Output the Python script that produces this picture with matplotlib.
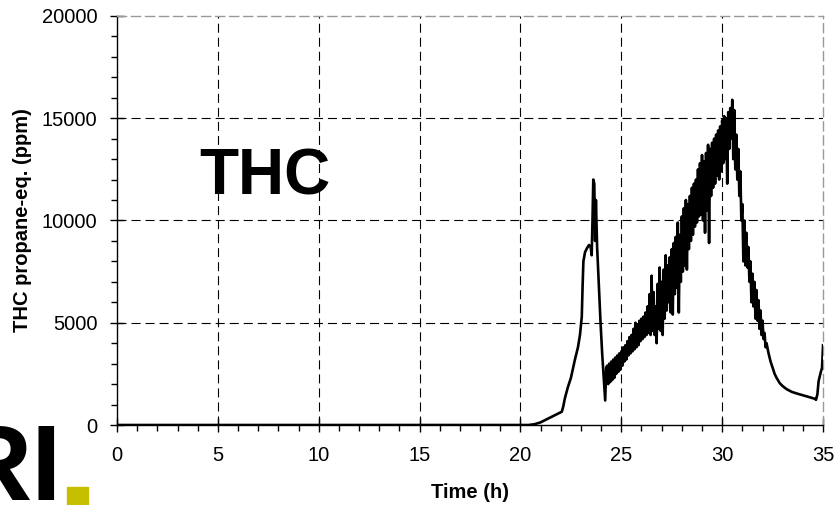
import numpy as np
import matplotlib
matplotlib.use("Agg")
import matplotlib.pyplot as plt
from matplotlib.patches import Rectangle
from matplotlib.ticker import MultipleLocator

plt.rcParams['font.family'] = ['Liberation Sans', 'DejaVu Sans']
plt.rcParams['lines.scale_dashes'] = False

# THC trace: time (h) and ppm propane-eq.
# quiet start and first peak
t_start = [0.0, 20.40, 20.70, 21.00, 21.30, 21.60, 21.80, 21.95, 22.05, 22.12,
           22.20, 22.35, 22.50, 22.70, 22.85, 22.95, 23.04, 23.08, 23.12, 23.20,
           23.30, 23.40, 23.48, 23.53, 23.57, 23.61, 23.66, 23.70, 23.74, 23.80,
           23.90, 23.97, 24.05, 24.12, 24.20, 24.25]
v_start = [0, 0, 40, 130, 280, 430, 530, 600, 650, 900,
           1300, 1850, 2300, 3200, 3800, 4400, 5300, 6800, 8000, 8450,
           8650, 8800, 8700, 8300, 10000, 12000, 11800, 9000, 11000, 8700,
           6500, 5000, 3500, 2400, 1200, 2800]

# noisy rise, main peak and decline
t_main = [24.30, 24.35, 24.40, 24.45, 24.50, 24.55, 24.60, 24.65, 24.70, 24.75,
          24.80, 24.85, 24.90, 24.95, 25.00, 25.05, 25.10, 25.15, 25.20, 25.25,
          25.30, 25.35, 25.40, 25.45, 25.50, 25.55, 25.60, 25.65, 25.70, 25.75,
          25.80, 25.85, 25.90, 25.95, 26.00, 26.05, 26.10, 26.15, 26.20, 26.25,
          26.30, 26.35, 26.40, 26.45, 26.50, 26.55, 26.60, 26.65, 26.70, 26.75,
          26.80, 26.85, 26.90, 26.95, 27.00, 27.05, 27.10, 27.15, 27.20, 27.25,
          27.30, 27.35, 27.40, 27.45, 27.50, 27.55, 27.60, 27.65, 27.70, 27.75,
          27.80, 27.85, 27.90, 27.95, 28.00, 28.05, 28.10, 28.15, 28.20, 28.25,
          28.30, 28.35, 28.40, 28.45, 28.50, 28.55, 28.60, 28.65, 28.70, 28.75,
          28.80, 28.85, 28.90, 28.95, 29.00, 29.05, 29.10, 29.15, 29.20, 29.25,
          29.30, 29.35, 29.40, 29.45, 29.50, 29.55, 29.60, 29.65, 29.70, 29.75,
          29.80, 29.85, 29.90, 29.95, 30.00, 30.05, 30.10, 30.15, 30.20, 30.25,
          30.30, 30.35, 30.40, 30.45, 30.50, 30.55, 30.60, 30.65, 30.70, 30.75,
          30.80, 30.85, 30.90, 30.95, 31.00, 31.05, 31.10, 31.15, 31.20, 31.25,
          31.30, 31.35, 31.40, 31.45, 31.50, 31.55, 31.60, 31.65, 31.70, 31.75,
          31.80, 31.85, 31.90, 31.95, 32.00, 32.05, 32.10, 32.15, 32.20, 32.30,
          32.40, 32.50, 32.60, 32.70, 32.85, 33.00, 33.20, 33.45, 33.70, 33.95,
          34.20, 34.40, 34.60, 34.65, 34.72, 34.78, 34.88, 34.95, 35.00]
v_main = [2900, 2000, 3000, 2100, 3100, 2200, 3200, 2300, 3300, 2500,
          3400, 2600, 3500, 2700, 3600, 2900, 3800, 3100, 3900, 3200,
          4100, 3400, 4300, 3500, 4400, 3600, 4700, 3700, 5000, 3800,
          4900, 3900, 5100, 4100, 5200, 4200, 5300, 4300, 5500, 4400,
          5800, 4500, 6400, 4400, 7300, 4600, 6500, 4400, 5800, 4000,
          6900, 4700, 7700, 4600, 7000, 4400, 7600, 5200, 8300, 5600,
          7800, 6000, 8200, 5500, 8600, 5400, 8900, 6400, 9200, 6700,
          9900, 5500, 9300, 7000, 10200, 7500, 10600, 7800, 11000, 7600,
          10800, 8600, 11200, 9000, 11600, 9300, 11800, 9700, 12000, 9900,
          12500, 10200, 12800, 10300, 13200, 10000, 12900, 9400, 13300, 10500,
          13700, 8900, 13500, 11200, 13800, 11600, 14000, 11800, 14200, 12200,
          14400, 12000, 14600, 12400, 14900, 12800, 15100, 13000, 15000, 11800,
          15300, 13500, 15500, 14000, 15900, 13000, 15400, 12500, 14200, 12000,
          13500, 11200, 12400, 10000, 10800, 8000, 10000, 7800, 9400, 7700,
          8700, 7000, 8000, 6000, 7400, 5800, 7000, 5200, 6600, 5100,
          6100, 4700, 5600, 4400, 5100, 4200, 4500, 3800, 4000, 3500,
          3100, 2800, 2500, 2300, 2050, 1900, 1750, 1620, 1540, 1470,
          1400, 1340, 1280, 1230, 1500, 2150, 2550, 2800, 3900]

time_h = t_start + t_main
thc_ppm = v_start + v_main

x_major = [0, 5, 10, 15, 20, 25, 30, 35]
y_major = [0, 5000, 10000, 15000, 20000]

fig = plt.figure(figsize=(8.36, 5.05), dpi=100)
ax = fig.add_axes([0.14, 0.1584, 0.8445, 0.81])

dash = (0, (6.5, 3.6))
for xv in x_major[1:-1]:
    ax.axvline(xv, color='black', lw=0.8, linestyle=dash, zorder=1)
for yv in y_major[1:-1]:
    ax.axhline(yv, color='black', lw=0.8, linestyle=dash, zorder=1)

ax.plot(time_h, thc_ppm, color='black', lw=1.9, zorder=3)

ax.set_xlim(0, 35)
ax.set_ylim(0, 20000)
ax.set_xticks(x_major)
ax.set_yticks(y_major)
ax.xaxis.set_minor_locator(MultipleLocator(1))
ax.yaxis.set_minor_locator(MultipleLocator(1000))
ax.tick_params(which='major', direction='inout', length=10, width=1,
               labelsize=14.5, color='black')
ax.tick_params(axis='x', which='major', pad=10)
ax.tick_params(axis='y', which='major', pad=9)
ax.tick_params(which='minor', direction='out', length=4.3, width=1)

for side in ['top', 'right']:
    ax.spines[side].set_color('#999999')
    ax.spines[side].set_linestyle(dash)
    ax.spines[side].set_linewidth(1)
for side in ['left', 'bottom']:
    ax.spines[side].set_color('black')
    ax.spines[side].set_linewidth(1)

ax.set_xlabel('Time (h)', fontsize=14.5, fontweight='bold')
ax.set_ylabel('THC propane-eq. (ppm)', fontsize=14.5, fontweight='bold')
ax.xaxis.set_label_coords(0.5, -0.166)
ax.xaxis.label.set_va('center')
ax.yaxis.set_label_coords(-0.134, 0.5)
ax.yaxis.label.set_va('center')

ax.text(4.1, 11250, 'THC', fontsize=46, fontweight='bold', va='baseline', ha='left')

# logo fragment in the lower-left corner
fig.text(62 / 836, 5 / 505, 'RI', fontsize=78, fontweight='bold',
         ha='right', va='baseline')
fig.add_artist(Rectangle((67 / 836, 0), 21 / 836, 18 / 505,
                         transform=fig.transFigure, color='#C5BF00'))

fig.savefig('out.png', dpi=100)
